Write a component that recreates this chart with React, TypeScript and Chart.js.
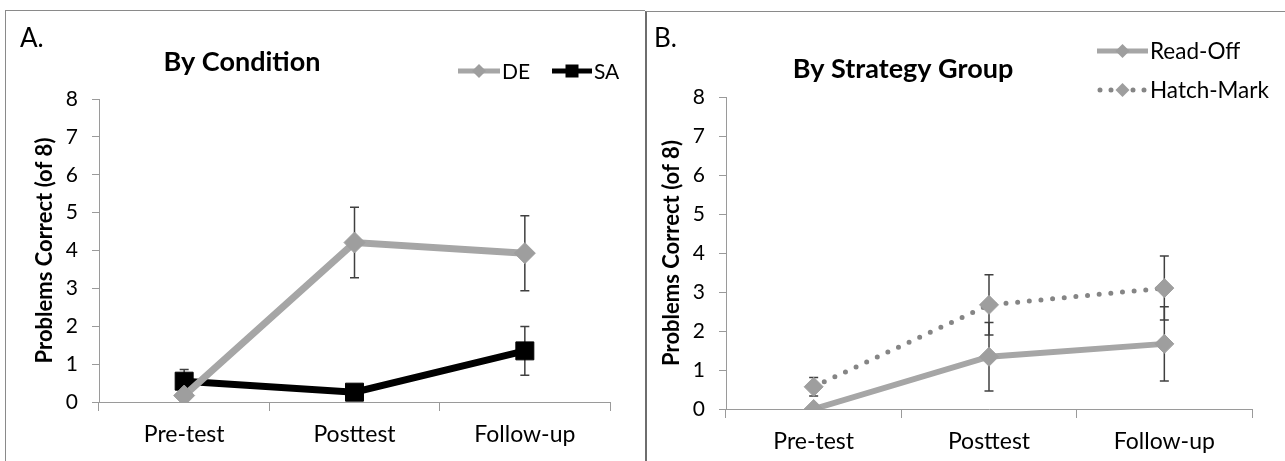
import React, { useEffect, useRef } from "react";
import { Chart, registerables } from "chart.js";

Chart.register(...registerables);

// ---------- DATA ----------
const categories = ["Pre-test", "Posttest", "Follow-up"];
const yMin = 0;
const yMax = 8;
const yStep = 1;

// Panel A: By Condition
const deMeans = [0.17, 4.21, 3.93];
const deErrors = [0, 0.93, 0.99];
const saMeans = [0.55, 0.26, 1.35];
const saErrors = [0.31, 0.15, 0.645];

// Panel B: By Strategy Group
const readOffMeans = [0, 1.34, 1.67];
const readOffErrors = [0, 0.88, 0.95];
const hatchMeans = [0.57, 2.67, 3.1];
const hatchErrors = [0.235, 0.77, 0.82];

const FONT = "Lato, 'Open Sans', sans-serif";
const yTitle = "Problems Correct (of 8)";

// ---------- PLUGINS ----------
const errorBarPlugin = {
  id: "errorBars",
  beforeDatasetsDraw(chart: any) {
    const ctx = chart.ctx;
    const ys = chart.scales.y;
    chart.data.datasets.forEach((ds: any, i: number) => {
      const errs = ds.errors;
      if (!errs) return;
      const meta = chart.getDatasetMeta(i);
      meta.data.forEach((pt: any, j: number) => {
        const e = errs[j];
        if (!e) return;
        const v = ds.data[j];
        const top = ys.getPixelForValue(v + e);
        const bot = ys.getPixelForValue(v - e);
        const x = pt.x;
        ctx.save();
        ctx.strokeStyle = "#404040";
        ctx.lineWidth = 1.5;
        ctx.beginPath();
        ctx.moveTo(x, top);
        ctx.lineTo(x, bot);
        ctx.moveTo(x - 4.5, top);
        ctx.lineTo(x + 4.5, top);
        ctx.moveTo(x - 4.5, bot);
        ctx.lineTo(x + 4.5, bot);
        ctx.stroke();
        ctx.restore();
      });
    });
  },
};

type LegendItem = {
  text: string;
  x: number;
  y: number;
  lineLen: number;
  color: string;
  lineWidth: number;
  dotted?: boolean;
  dotColor?: string;
  marker: "diamond" | "square";
  markerColor: string;
  markerSize: number;
  fontSize: number;
};

type Decor = {
  label: string;
  labelX: number;
  labelY: number;
  title: string;
  titleX: number;
  titleY: number;
  titleSize: number;
  legend: LegendItem[];
};

function makeDecorPlugin(d: Decor) {
  return {
    id: "decor",
    afterDraw(chart: any) {
      const ctx = chart.ctx;
      ctx.save();
      ctx.fillStyle = "#000";
      ctx.textBaseline = "alphabetic";
      ctx.textAlign = "left";
      ctx.font = `400 26px ${FONT}`;
      ctx.fillText(d.label, d.labelX, d.labelY);
      ctx.textAlign = "center";
      ctx.font = `700 ${d.titleSize}px ${FONT}`;
      ctx.fillText(d.title, d.titleX, d.titleY);
      for (const it of d.legend) {
        const x0 = it.x;
        const x1 = it.x + it.lineLen;
        const cx = (x0 + x1) / 2;
        if (it.dotted) {
          ctx.strokeStyle = it.dotColor || it.color;
          ctx.lineWidth = it.lineWidth;
          ctx.lineCap = "round";
          ctx.setLineDash([0, 11]);
          ctx.beginPath();
          ctx.moveTo(x0 + 3, it.y);
          ctx.lineTo(x1, it.y);
          ctx.stroke();
          ctx.setLineDash([]);
        } else {
          ctx.strokeStyle = it.color;
          ctx.lineWidth = it.lineWidth;
          ctx.lineCap = "butt";
          ctx.beginPath();
          ctx.moveTo(x0, it.y);
          ctx.lineTo(x1, it.y);
          ctx.stroke();
        }
        ctx.fillStyle = it.markerColor;
        const s = it.markerSize;
        ctx.beginPath();
        if (it.marker === "diamond") {
          ctx.moveTo(cx, it.y - s);
          ctx.lineTo(cx + s, it.y);
          ctx.lineTo(cx, it.y + s);
          ctx.lineTo(cx - s, it.y);
          ctx.closePath();
        } else {
          ctx.rect(cx - s, it.y - s, 2 * s, 2 * s);
        }
        ctx.fill();
        ctx.fillStyle = "#000";
        ctx.textAlign = "left";
        ctx.textBaseline = "middle";
        ctx.font = `400 ${it.fontSize}px ${FONT}`;
        ctx.fillText(it.text, x1 + 2, it.y + 1);
      }
      ctx.restore();
    },
  };
}

type Geo = {
  width: number;
  height: number;
  left: number;
  right: number;
  top: number;
  bottom: number;
  padLeft: number;
};

function buildConfig(datasets: any[], geo: Geo, decor: Decor): any {
  const axisColor = "#9a9a9a";
  return {
    type: "line",
    data: { labels: categories, datasets },
    plugins: [errorBarPlugin, makeDecorPlugin(decor)],
    options: {
      animation: false,
      responsive: false,
      devicePixelRatio: 1,
      layout: {
        padding: {
          left: geo.padLeft,
          right: geo.width - geo.right,
          top: geo.top,
          bottom: 0,
        },
      },
      plugins: {
        legend: { display: false },
        title: { display: false },
        tooltip: { enabled: false },
      },
      scales: {
        x: {
          type: "category",
          offset: true,
          grid: {
            offset: true,
            drawOnChartArea: false,
            drawTicks: true,
            tickLength: 9,
            color: axisColor,
            lineWidth: 1,
          },
          border: { display: true, color: axisColor, width: 1 },
          ticks: {
            color: "#000",
            font: { family: FONT, size: 23 },
            padding: 10,
            maxRotation: 0,
          },
          afterFit(scale: any) {
            scale.height = geo.height - geo.bottom;
          },
        },
        y: {
          min: yMin,
          max: yMax,
          grid: {
            drawOnChartArea: false,
            drawTicks: true,
            tickLength: 7,
            color: axisColor,
            lineWidth: 1,
          },
          border: { display: true, color: axisColor, width: 1 },
          ticks: {
            stepSize: yStep,
            color: "#000",
            font: { family: FONT, size: 21 },
            padding: 14,
          },
          title: {
            display: true,
            text: yTitle,
            color: "#000",
            font: { family: FONT, size: 22, weight: "bold" },
            padding: 0,
          },
          afterFit(scale: any) {
            scale.width = geo.left - geo.padLeft;
          },
        },
      },
    },
  };
}

function Panel(props: {
  datasets: any[];
  geo: Geo;
  decor: Decor;
  style: React.CSSProperties;
}) {
  const ref = useRef<HTMLCanvasElement | null>(null);
  useEffect(() => {
    if (!ref.current) return;
    const chart = new Chart(ref.current, buildConfig(props.datasets, props.geo, props.decor));
    return () => chart.destroy();
  }, []);
  return (
    <canvas
      ref={ref}
      width={props.geo.width}
      height={props.geo.height}
      style={{ position: "absolute", display: "block", ...props.style, width: props.geo.width, height: props.geo.height }}
    />
  );
}

const GRAY_LINE = "#a6a6a6";
const GRAY_MARK = "#9e9e9e";

const datasetsA = [
  {
    label: "DE",
    data: deMeans,
    errors: deErrors,
    borderColor: GRAY_LINE,
    borderWidth: 7,
    pointStyle: "rectRot",
    pointRadius: 10.5,
    pointBackgroundColor: GRAY_MARK,
    pointBorderColor: GRAY_MARK,
    pointBorderWidth: 1,
    tension: 0,
  },
  {
    label: "SA",
    data: saMeans,
    errors: saErrors,
    borderColor: "#000000",
    borderWidth: 7,
    pointStyle: "rect",
    pointRadius: 12.7,
    pointBackgroundColor: "#000000",
    pointBorderColor: "#000000",
    pointBorderWidth: 1,
    tension: 0,
  },
];

const datasetsB = [
  {
    label: "Read-Off",
    data: readOffMeans,
    errors: readOffErrors,
    borderColor: GRAY_LINE,
    borderWidth: 6,
    pointStyle: "rectRot",
    pointRadius: 9.5,
    pointBackgroundColor: GRAY_MARK,
    pointBorderColor: GRAY_MARK,
    pointBorderWidth: 1,
    tension: 0,
  },
  {
    label: "Hatch-Mark",
    data: hatchMeans,
    errors: hatchErrors,
    borderColor: "#858585",
    borderWidth: 5,
    borderDash: [0, 11.7],
    borderCapStyle: "round",
    pointStyle: "rectRot",
    pointRadius: 9.5,
    pointBackgroundColor: GRAY_MARK,
    pointBorderColor: GRAY_MARK,
    pointBorderWidth: 1,
    tension: 0,
  },
];

const geoA: Geo = { width: 639, height: 450, left: 93, right: 604, top: 88, bottom: 391, padLeft: 26 };
const geoB: Geo = { width: 638, height: 449, left: 79, right: 605, top: 85, bottom: 397, padLeft: 12 };

const decorA: Decor = {
  label: "A.",
  labelX: 14,
  labelY: 36,
  title: "By Condition",
  titleX: 236,
  titleY: 60,
  titleSize: 27,
  legend: [
    { text: "DE", x: 452, y: 60, lineLen: 42, color: GRAY_LINE, lineWidth: 5, marker: "diamond", markerColor: GRAY_MARK, markerSize: 7, fontSize: 21 },
    { text: "SA", x: 546, y: 60, lineLen: 40, color: "#000000", lineWidth: 5, marker: "square", markerColor: "#000000", markerSize: 6.5, fontSize: 21 },
  ],
};

const decorB: Decor = {
  label: "B.",
  labelX: 7,
  labelY: 35,
  title: "By Strategy Group",
  titleX: 256,
  titleY: 66,
  titleSize: 27,
  legend: [
    { text: "Read-Off", x: 450, y: 39, lineLen: 51, color: GRAY_LINE, lineWidth: 5, marker: "diamond", markerColor: GRAY_MARK, markerSize: 7, fontSize: 22.5 },
    { text: "Hatch-Mark", x: 450, y: 78, lineLen: 51, color: GRAY_LINE, lineWidth: 5, dotted: true, dotColor: "#858585", marker: "diamond", markerColor: GRAY_MARK, markerSize: 7, fontSize: 22.5 },
  ],
};

export default function App() {
  return (
    <div style={{ position: "absolute", left: 0, top: 0, width: 1285, height: 461, overflow: "hidden", background: "#ffffff" }}>
      <div style={{ position: "absolute", left: 5, top: 10, width: 640, height: 470, borderLeft: "1px solid #8a8a8a", borderTop: "1px solid #8a8a8a", boxSizing: "border-box" }} />
      <div style={{ position: "absolute", left: 645, top: 11, width: 650, height: 470, borderLeft: "2px solid #6e6e6e", borderTop: "1px solid #8a8a8a", boxSizing: "border-box" }} />
      <Panel datasets={datasetsA} geo={geoA} decor={decorA} style={{ left: 6, top: 11 }} />
      <Panel datasets={datasetsB} geo={geoB} decor={decorB} style={{ left: 647, top: 12 }} />
    </div>
  );
}
